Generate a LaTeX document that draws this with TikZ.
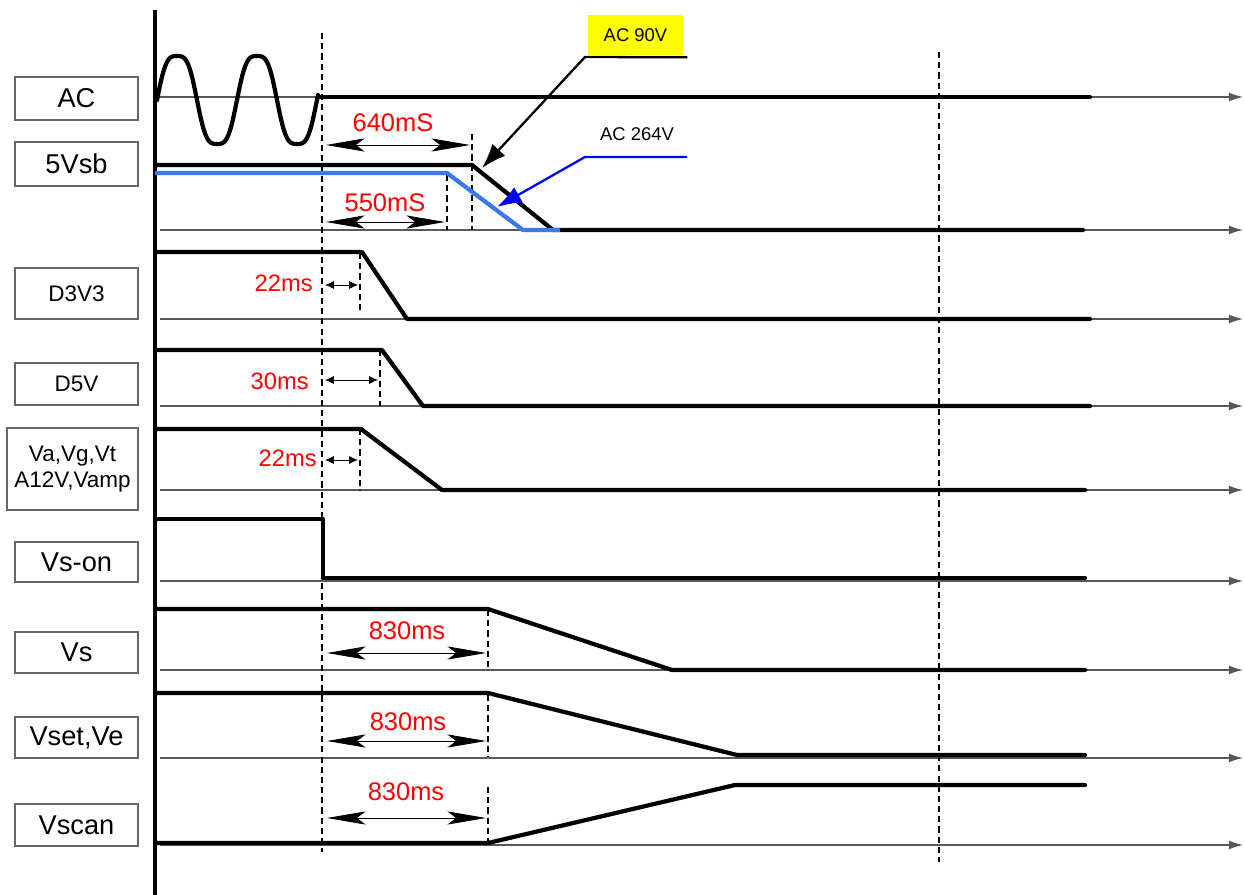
\documentclass[tikz,border=0pt]{standalone}
\usepackage{fontspec}
\setmainfont{Liberation Sans}
\usetikzlibrary{arrows.meta}

\definecolor{vsblue}{RGB}{60,122,236}
\definecolor{tagyellow}{RGB}{255,255,0}

\begin{document}
\begin{tikzpicture}[x=0.02cm,y=-0.02cm,>=Latex]
    \tikzset{
        namebox/.style={draw=black!60,line width=0.6pt,inner sep=0pt,
            minimum width=2.46cm,font=\fontsize{15.5}{18}\selectfont},
        smallbox/.style={namebox,font=\fontsize{12.8}{15}\selectfont},
        sig/.style={line width=2.4pt,line join=round,line cap=round},
        base/.style={black!65,line width=0.6pt,-{Latex[length=8pt,width=5pt]}},
        guide/.style={line width=0.6pt,dash pattern=on 3.5pt off 2.3pt},
        span/.style={line width=0.5pt,
            {Stealth[length=22pt,width=7.5pt,inset=5pt]}-{Stealth[length=22pt,width=7.5pt,inset=5pt]}},
        gap/.style={line width=0.5pt,{Latex[length=5pt,width=4.5pt]}-{Latex[length=5pt,width=4.5pt]}},
        delay/.style={text=red,inner sep=0pt,font=\fontsize{14.5}{17}\selectfont},
        callout/.style={line width=1.3pt,-{Latex[length=14pt,width=10pt]}},
        tag/.style={inner sep=0pt,font=\fontsize{10.5}{12}\selectfont}
    }
    \useasboundingbox (0,0) rectangle (1245,895);

    % signal names
    \node[namebox,minimum height=0.86cm] (nac) at (76.5,98.5) {AC};
    \node[namebox,minimum height=0.88cm] (nsb) at (76.5,164) {5Vsb};
    \node[smallbox,minimum height=1.02cm] (nd3) at (76.5,293.5) {D3V3};
    \node[smallbox,minimum height=0.84cm] (nd5) at (76.5,384) {D5V};
    \node[smallbox,minimum width=2.62cm,minimum height=1.64cm,align=center]
        (nva) at (72.5,469) {Va,Vg,Vt\\A12V,Vamp};
    \node[namebox,minimum height=0.80cm] (nvson) at (76.5,562) {Vs-on};
    \node[namebox,minimum height=0.82cm] (nvs) at (76.5,652.5) {Vs};
    \node[namebox,minimum height=0.82cm] (nvset) at (76.5,737.5) {Vset,Ve};
    \node[namebox,minimum height=0.84cm] (nvscan) at (76.5,825) {Vscan};

    % time axes
    \draw[line width=2.4pt] (155,10) -- (155,895);
    \draw[base] (158,97) -- (1243,97);
    \draw[base] (160,230) -- (1243,230);
    \draw[base] (160,319) -- (1243,319);
    \draw[base] (160,406) -- (1243,406);
    \draw[base] (160,490) -- (1243,490);
    \draw[base] (160,581) -- (1243,581);
    \draw[base] (160,670) -- (1243,670);
    \draw[base] (160,758) -- (1243,758);
    \draw[base] (160,845) -- (1243,845);

    % dashed time marks
    \draw[guide] (322,33) -- (322,852);
    \draw[guide] (939,52) -- (939,862);
    \draw[guide] (472,134) -- (472,230);
    \draw[guide] (447,175) -- (447,230);
    \draw[guide] (360,253) -- (360,313);
    \draw[guide] (380,350) -- (380,406);
    \draw[guide] (360,429) -- (360,491);
    \draw[guide] (488,610) -- (488,668);
    \draw[guide] (488,695) -- (488,757);
    \draw[guide] (488,787) -- (488,843);

    % waveforms
    \draw[sig] plot[domain=157:318,samples=160]
        (\x,{100-44*(sin(4.5*(\x-157))+0.1*sin(13.5*(\x-157)))/0.9});
    \draw[sig] (320,97) -- (1090,97);
    \draw[sig] (155,165) -- (472,165) -- (553,230) -- (1083,230);
    \draw[sig,draw=vsblue,line cap=butt] (155,173) -- (447,173) -- (523,230) -- (560,230);
    \draw[sig] (155,252) -- (362,252) -- (407,319) -- (1090,319);
    \draw[sig] (155,350) -- (382,350) -- (423,406) -- (1090,406);
    \draw[sig] (155,429) -- (361,429) -- (442,490) -- (1085,490);
    \draw[sig] (155,519) -- (323,519) -- (323,578) -- (1085,578);
    \draw[sig] (155,609) -- (488,609) -- (672,670) -- (1085,670);
    \draw[sig] (155,693) -- (488,693) -- (737,755) -- (1085,755);
    \draw[sig] (155,843) -- (488,843) -- (735,785) -- (1085,785);

    % delays
    \draw[span] (326,145) -- (470,145);
    \node[delay] (t640) at (393,123) {640mS};
    \draw[span] (326,222) -- (445,222);
    \node[delay] (t550) at (385,203) {550mS};
    \draw[gap] (325,285) -- (358,285);
    \node[delay,anchor=east,font=\fontsize{13.5}{15}\selectfont] (t22a) at (313,283) {22ms};
    \draw[gap] (325,380) -- (378,380);
    \node[delay,anchor=east,font=\fontsize{13.5}{15}\selectfont] (t30) at (309,381) {30ms};
    \draw[gap] (325,460) -- (358,460);
    \node[delay,anchor=east,font=\fontsize{13.5}{15}\selectfont] (t22b) at (317,458) {22ms};
    \draw[span] (327,653) -- (486,653);
    \node[delay] (t830a) at (407,631) {830ms};
    \draw[span] (327,741) -- (486,741);
    \node[delay] (t830b) at (408,722) {830ms};
    \draw[span] (327,818) -- (486,818);
    \node[delay] (t830c) at (406,792) {830ms};

    % AC level tags
    \node[tag,fill=tagyellow,minimum width=1.9cm,minimum height=0.8cm] (ac90) at (635.5,35) {AC 90V};
    \coordinate (tip90) at (482,168);
    \draw[callout] (ac90.south east) ++(4,2) -- (585,57) -- (tip90);
    \node[tag] (ac264) at (637,134) {AC 264V};
    \coordinate (tip264) at (497,207);
    \draw[callout,blue] (687,157) -- (585,157) -- (tip264);
\end{tikzpicture}
\end{document}
